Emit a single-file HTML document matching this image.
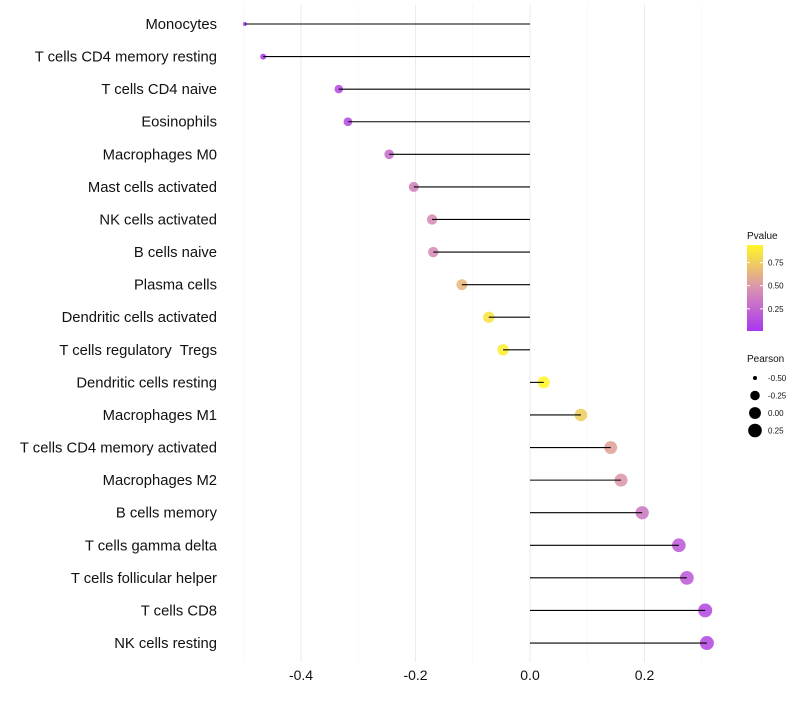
<!DOCTYPE html>
<html><head><meta charset="utf-8"><style>
body{margin:0;background:#fff;font-family:"Liberation Sans",sans-serif}
text{white-space:pre}
</style></head><body>
<svg id="c" width="800" height="700" xmlns="http://www.w3.org/2000/svg">
<defs><linearGradient id="g" x1="0" y1="1" x2="0" y2="0">
<stop offset="0" stop-color="#A020F0"/><stop offset="0.5" stop-color="#D587A8"/><stop offset="1" stop-color="#FFF510"/></linearGradient></defs>
</svg>
<script>
const categories=["Monocytes","T cells CD4 memory resting","T cells CD4 naive","Eosinophils","Macrophages M0","Mast cells activated","NK cells activated","B cells naive","Plasma cells","Dendritic cells activated","T cells regulatory  Tregs","Dendritic cells resting","Macrophages M1","T cells CD4 memory activated","Macrophages M2","B cells memory","T cells gamma delta","T cells follicular helper","T cells CD8","NK cells resting"];
const pearson=[-0.498,-0.466,-0.334,-0.318,-0.246,-0.203,-0.171,-0.169,-0.119,-0.072,-0.047,0.024,0.089,0.141,0.159,0.196,0.260,0.274,0.306,0.309];
const pvalue=[0.03,0.04,0.12,0.13,0.3,0.4,0.45,0.45,0.65,0.85,0.9,0.95,0.75,0.55,0.5,0.35,0.2,0.2,0.12,0.12];
const xTicks=[-0.4,-0.2,0.0,0.2];
const xTickLabels=["-0.4","-0.2","0.0","0.2"];
const cbTicks=[0.25,0.5,0.75];
const sizeLegend=[-0.5,-0.25,0,0.25];
const svg=document.getElementById('c');
const NS="http://www.w3.org/2000/svg";
const x=v=>530+v*572.5;
const y=i=>24+i*32.58;
const r=v=>2+5*Math.sqrt(Math.max(0,Math.min(1,(v+0.498)/0.808)));
function mix(a,b,t){return a.map((c,i)=>Math.round(c+(b[i]-c)*t));}
function col(p){const P=[160,32,240],M=[213,135,168],Y=[255,245,16];
 const t=Math.max(0,Math.min(1,(p-0.01)/0.93));
 const c=t<0.5?mix(P,M,t*2):mix(M,Y,(t-0.5)*2);return `rgb(${c})`;}
function el(t,a,txt){const e=document.createElementNS(NS,t);for(const k in a)e.setAttribute(k,a[k]);if(txt!==undefined)e.textContent=txt;svg.appendChild(e);return e;}
for(let i=0;i<xTicks.length;i++){
 const g=el('line',{x1:x(xTicks[i]),x2:x(xTicks[i]),y1:5,y2:662,stroke:'#ebebeb','stroke-width':1});
 
 const m=el('line',{x1:x(xTicks[i]+0.1),x2:x(xTicks[i]+0.1),y1:5,y2:662,stroke:'#f4f4f4','stroke-width':0.6});
 
 const t=el('text',{x:x(xTicks[i]),y:680,'text-anchor':'middle','font-size':14,fill:'#111'},xTickLabels[i]);
 
}
const m0=el('line',{x1:x(-0.5),x2:x(-0.5),y1:5,y2:662,stroke:'#f4f4f4','stroke-width':0.6});

for(let i=0;i<categories.length;i++){
 const l=el('text',{x:217,y:y(i)+5,'text-anchor':'end','font-size':14.8,fill:'#111'},categories[i]);
 
 const c=el('circle',{cx:x(pearson[i]),cy:y(i),r:r(pearson[i]),fill:col(pvalue[i]),'fill-opacity':0.8});
 
 const s=el('line',{x1:x(0),x2:x(pearson[i]),y1:y(i),y2:y(i),stroke:'#000','stroke-width':1.1});
 
}
const lt=el('text',{x:747,y:239,'font-size':10,fill:'#111'},'Pvalue');

const cb=el('rect',{x:747,y:245,width:16,height:86,fill:'url(#g)','fill-opacity':0.9});

const cy=p=>331-(p-0.01)/0.93*86;
for(const p of cbTicks){
 el('line',{x1:747,x2:750,y1:cy(p),y2:cy(p),stroke:'#fff'});el('line',{x1:760,x2:763,y1:cy(p),y2:cy(p),stroke:'#fff'});
 const t=el('text',{x:768,y:cy(p)+3,'font-size':8,fill:'#111'},p.toFixed(2));
 
}
const st=el('text',{x:747,y:362,'font-size':10,fill:'#111'},'Pearson');

sizeLegend.forEach((v,i)=>{
 const yy=378+i*17.5;
 const c=el('circle',{cx:755,cy:yy,r:r(v),fill:'#000'});
 
 const t=el('text',{x:768,y:yy+3,'font-size':8,fill:'#111'},v.toFixed(2));
 
});
</script>
</body></html>
